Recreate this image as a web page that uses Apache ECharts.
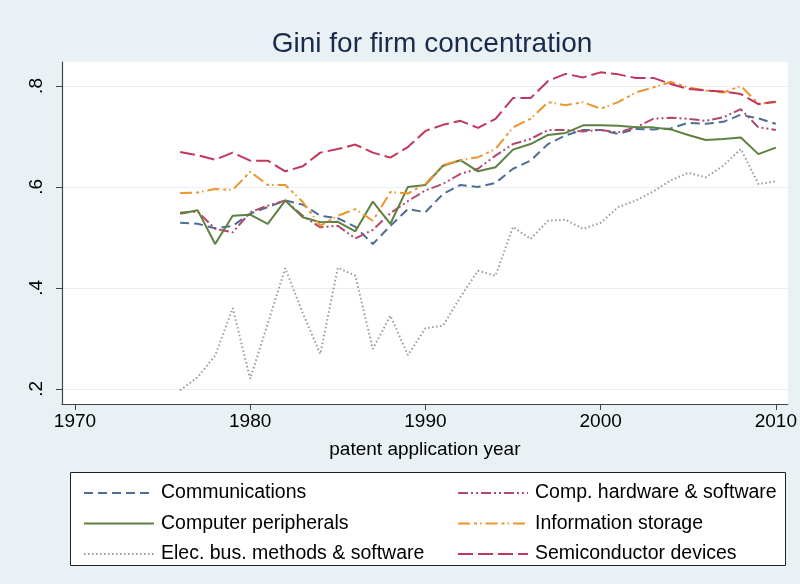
<!DOCTYPE html>
<html>
<head>
<meta charset="utf-8">
<script src="https://cdn.jsdelivr.net/npm/echarts@6/dist/echarts.min.js"></script>
<style>
  html, body { margin: 0; padding: 0; background: #e9f1f4; }
  #main { width: 800px; height: 584px; }
</style>
</head>
<body>
<div id="main"></div>
<script>
// years 1976..2010
const years = [1976, 1977, 1978, 1979, 1980, 1981, 1982, 1983, 1984, 1985,
  1986, 1987, 1988, 1989, 1990, 1991, 1992, 1993, 1994, 1995,
  1996, 1997, 1998, 1999, 2000, 2001, 2002, 2003, 2004, 2005,
  2006, 2007, 2008, 2009, 2010]

const communications = [.529, .527, .518, .523, .547, .560, .573, .565, .543, .538,
  .521, .487, .523, .556, .550, .586, .604, .600, .608, .636,
  .652, .685, .702, .713, .713, .705, .715, .714, .716, .727,
  .725, .729, .743, .736, .725]
const compHardware = [.549, .551, .517, .510, .550, .563, .573, .543, .520, .523,
  .498, .515, .548, .572, .593, .606, .626, .636, .662, .685,
  .695, .713, .713, .710, .713, .708, .718, .735, .737, .735,
  .731, .738, .754, .718, .713]
const compPeripherals = [.547, .554, .487, .543, .545, .527, .573, .540, .530, .531,
  .512, .571, .527, .600, .604, .642, .653, .631, .639, .674,
  .685, .703, .707, .722, .722, .721, .718, .718, .714, .703,
  .693, .695, .698, .665, .678]
const infoStorage = [.588, .589, .596, .594, .630, .604, .604, .570, .523, .543,
  .556, .533, .590, .587, .606, .643, .653, .659, .675, .718,
  .735, .768, .762, .768, .755, .768, .787, .797, .808, .797,
  .791, .787, .800, .765, .768]
const elecBusiness = [.197, .223, .266, .360, .220, .329, .439, .350, .269, .440,
  .424, .279, .345, .267, .320, .325, .382, .434, .424, .521,
  .497, .533, .535, .517, .529, .560, .573, .591, .613, .628,
  .619, .642, .675, .606, .611]
const semiconductor = [.669, .663, .654, .668, .652, .652, .631, .641, .668, .675,
  .684, .668, .658, .679, .711, .723, .731, .717, .735, .776,
  .776, .810, .824, .817, .827, .823, .816, .816, .804, .794,
  .791, .789, .784, .764, .769]

const xTicks = [1970, 1980, 1990, 2000, 2010]
const yTicks = [.2, .4, .6, .8]

const FONT = '"Liberation Sans", Arial, Helvetica, sans-serif'

let myChart = echarts.init(document.getElementById('main'))

function pairs(vals) {
  return vals.map((v, i) => [years[i], v])
}

function line(name, vals, color, dash) {
  return {
    name: name,
    type: 'line',
    symbol: 'none',
    data: pairs(vals),
    lineStyle: { color: color, width: 2, type: dash },
    itemStyle: { color: color },
    animation: false
  }
}

const legendText = {
  fontFamily: FONT,
  fontSize: 19.5,
  color: '#000',
  lineHeight: 19,
  padding: [0, 0, 0, 2]
}

myChart.setOption({
  backgroundColor: '#e9f1f4',
  title: {
    text: 'Gini for firm concentration',
    left: 427,
    top: 25,
    textAlign: 'center',
    textStyle: { fontFamily: FONT, fontSize: 28, fontWeight: 'normal', color: '#1b2a4c' }
  },
  grid: {
    left: 62, right: 7, top: 62, bottom: 180,
    show: true, backgroundColor: '#fff', borderWidth: 0
  },
  graphic: [{
    type: 'rect',
    z: 0,
    shape: { x: 70.5, y: 472.5, width: 715, height: 93 },
    style: { fill: '#fff', stroke: '#222', lineWidth: 1 }
  }],
  legend: [
    {
      data: ['Communications', 'Computer peripherals', 'Elec. bus. methods & software'],
      orient: 'vertical', left: 78, top: 478,
      itemWidth: 70, itemHeight: 14, itemGap: 10.5,
      itemStyle: { opacity: 0 },
      textStyle: legendText, z: 5
    },
    {
      data: ['Comp. hardware & software', 'Information storage', 'Semiconductor devices'],
      orient: 'vertical', left: 452, top: 478,
      itemWidth: 70, itemHeight: 14, itemGap: 10.5,
      itemStyle: { opacity: 0 },
      textStyle: legendText, z: 5
    }
  ],
  xAxis: {
    type: 'value',
    min: 1969.26,
    max: 2010.68,
    name: 'patent application year',
    nameLocation: 'middle',
    nameGap: 36,
    nameTextStyle: { fontFamily: FONT, fontSize: 19, color: '#000' },
    axisLine: { lineStyle: { color: '#444', width: 1.2 } },
    axisTick: { customValues: xTicks, length: 6, lineStyle: { color: '#444' } },
    axisLabel: {
      customValues: xTicks, margin: 8,
      fontFamily: FONT, fontSize: 19, color: '#000',
      formatter: function (value) { return String(value) }
    },
    splitLine: { show: false }
  },
  yAxis: {
    type: 'value',
    min: 0.17,
    max: 0.8475,
    axisLine: { show: true, lineStyle: { color: '#444', width: 1.2 } },
    axisTick: { show: true, customValues: yTicks, length: 6, lineStyle: { color: '#444' } },
    axisLabel: {
      customValues: yTicks, rotate: 90, margin: 16,
      fontFamily: FONT, fontSize: 19, color: '#000',
      formatter: function (value) {
        return String(Math.round(value * 10) / 10).replace(/^0/, '')
      }
    },
    splitLine: { show: true, lineStyle: { color: '#eceff1', width: 1 } }
  },
  series: [
    line('Communications', communications, '#4d6d95', [9, 5]),
    line('Comp. hardware & software', compHardware, '#b4486c', [10, 3, 2, 3, 2, 3]),
    line('Computer peripherals', compPeripherals, '#5e8040', 'solid'),
    line('Information storage', infoStorage, '#e9972e', [12, 4, 3, 3, 1.5, 4]),
    line('Elec. bus. methods & software', elecBusiness, '#9a9a9a', [1.5, 2.5]),
    line('Semiconductor devices', semiconductor, '#c3365b', [15, 5])
  ]
}, true)
</script>
</body>
</html>
